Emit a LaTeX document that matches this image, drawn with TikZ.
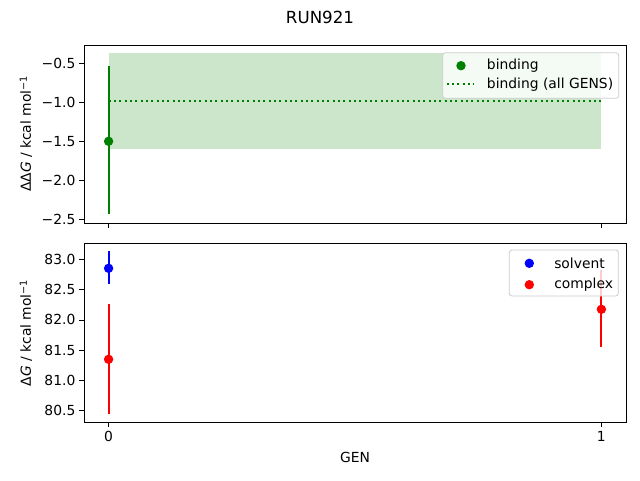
\documentclass[tikz,border=0pt]{standalone}
\usepackage{fontspec}
\setmainfont{DejaVu Sans}
\definecolor{mgreen}{HTML}{008000}
\definecolor{mfill}{HTML}{CCE6CC}
\definecolor{legedge}{HTML}{CCCCCC}
\begin{document}
\begin{tikzpicture}[x=0.75pt,y=-0.75pt,
  tick/.style={line width=0.6pt},
  spine/.style={line width=0.6pt},
  ticklab/.style={font=\fontsize{10.4}{12}\selectfont, inner sep=0pt},
  lab/.style={font=\fontsize{10.4}{12}\selectfont, inner sep=0pt},
  errbar/.style={line width=1.5pt},
  legbox/.style={draw=legedge, fill=white, fill opacity=0.8, line width=0.6pt, rounded corners=2pt},
  legtext/.style={font=\fontsize{10.4}{12}\selectfont, inner sep=0pt, anchor=west}
]
\newcommand{\supm}{\raisebox{0.55ex}{\fontsize{7.3}{8}\selectfont −1}}
\useasboundingbox (0,0) rectangle (640,480);
\fill[white] (0,0) rectangle (640,480);
% title
\node[font=\fontsize{12.5}{14}\selectfont, inner sep=0pt] (title) at (320,17) {RUN921};

% ===== top panel =====
\fill[mfill] (108.6,53.3) rectangle (601.4,149.3);
\draw[mgreen, line width=1.5pt, dash pattern=on 1.5pt off 2.5pt] (108.6,101) -- (601.4,101);
\draw[mgreen, errbar] (108.6,66) -- (108.6,214.3);
\fill[mgreen] (108.6,141.3) circle (4.7);
\draw[spine] (84,45) rectangle (626,223);
\foreach \y/\t in {63.3/−0.5,102.3/−1.0,141.3/−1.5,180.3/−2.0,219.3/−2.5}{
  \draw[tick] (84,\y) -- (79.1,\y);
  \node[ticklab, anchor=east] at (75.6,\y) {\t};
}
\foreach \x in {108.6,601.4}{ \draw[tick] (\x,223) -- (\x,227.9); }
\node[lab, rotate=90] (ylab1) at (26,134) {ΔΔ{\itshape G} / kcal mol\supm};
% legend top
\draw[legbox] (442.7,52.7) rectangle (618.7,98.3);
\fill[mgreen] (461,65.7) circle (4.7);
\node[legtext] (lb1) at (486.7,65.7) {binding};
\draw[mgreen, line width=1.5pt, dash pattern=on 1.5pt off 2.5pt] (446.7,84.3) -- (474,84.3);
\node[legtext] (lb2) at (486.7,84.3) {binding (all GENS)};

% ===== bottom panel =====
\draw[blue, errbar] (108.6,251) -- (108.6,284.3);
\fill[blue] (108.6,268.3) circle (4.7);
\draw[red, errbar] (108.6,304) -- (108.6,413.7);
\fill[red] (108.6,359.3) circle (4.7);
\draw[red, errbar] (601.4,270) -- (601.4,347.3);
\fill[red] (601.4,309.3) circle (4.7);
\draw[spine] (84,243.3) rectangle (626,422.3);
\foreach \y/\t in {259.3/83.0,289.6/82.5,319.9/82.0,350.1/81.5,380.4/81.0,410.7/80.5}{
  \draw[tick] (84,\y) -- (79.1,\y);
  \node[ticklab, anchor=east] at (75.6,\y) {\t};
}
\foreach \x/\t in {108.6/0,601.4/1}{
  \draw[tick] (\x,422.3) -- (\x,427.2);
  \node[ticklab, anchor=north] at (\x,430.7) {\t};
}
\node[lab, rotate=90] (ylab2) at (26,333) {Δ{\itshape G} / kcal mol\supm};
\node[lab] (xlab) at (355,457) {GEN};
% legend bottom
\draw[legbox] (509.3,250) rectangle (618.3,296);
\fill[blue] (529.3,263.3) circle (4.7);
\node[legtext] (ls) at (554,263.3) {solvent};
\fill[red] (529.3,284.7) circle (4.7);
\node[legtext] (lc) at (554,284.7) {complex};
\end{tikzpicture}
\end{document}
